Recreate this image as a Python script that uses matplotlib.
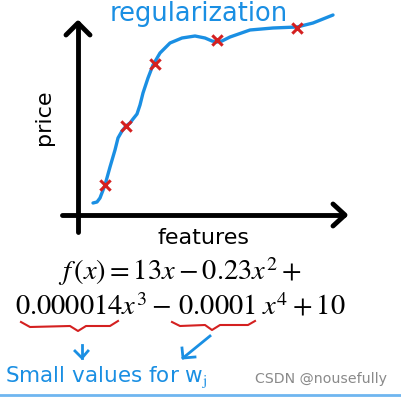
import matplotlib
matplotlib.use("Agg")
import matplotlib.pyplot as plt

# data (pixel coordinates, y downwards)
point_x = [105, 126, 155, 217, 297]
point_y = [185, 126, 64, 40, 28]

curve_x = [93, 97, 100, 105, 110, 115, 118, 122, 126, 130, 133, 137, 140, 143,
           148, 153, 160, 170, 182, 195, 205, 212, 217, 222, 230, 250, 273, 297,
           313, 333]
curve_y = [203, 202, 198, 185, 167, 150, 138, 131, 126, 123, 119, 114, 105, 93,
           78, 65, 53, 43, 38, 36, 38, 41, 42, 41, 37, 30, 28, 27, 23, 15]

line1 = r"$f\,(x) = 13x - 0.23x^2 +$"
line2 = r"$0.000014x^3 - \,0.0001\;x^4 + 10$"

plt.rcParams["mathtext.fontset"] = "stix"

fig = plt.figure(figsize=(4.02, 3.97), dpi=100)
ax = fig.add_axes([0, 0, 1, 1])
ax.set_xlim(0, 402)
ax.set_ylim(397, 0)
ax.axis("off")

# axes with arrow heads
ax.plot([78, 78], [23, 232], color="black", lw=3.5, solid_capstyle="round")
ax.plot([66, 78, 90], [35, 23, 35], color="black", lw=3.5, solid_capstyle="round",
        solid_joinstyle="round")
ax.plot([62, 344], [215, 215], color="black", lw=3.5, solid_capstyle="round")
ax.plot([333, 345, 333], [204, 215, 226], color="black", lw=3.5,
        solid_capstyle="round", solid_joinstyle="round")

# fitted curve and training points
ax.plot(curve_x, curve_y, color="#1a8fe3", lw=2.4, solid_capstyle="round",
        solid_joinstyle="round")
ax.scatter(point_x, point_y, marker="x", s=55, color="#d42020", linewidths=2.2,
           zorder=3)

ax.text(44, 117, "price", rotation=90, fontsize=16, ha="center", va="center")
ax.text(204, 238, "features", fontsize=16, ha="center", va="center")
ax.text(199, 21, "regularization", fontsize=18.5, color="#1a8fe3", ha="center",
        va="baseline")

ax.text(180, 272, line1, fontsize=20.5, ha="center", va="center")
ax.text(180, 307, line2, fontsize=20.5, ha="center", va="center")

# red braces
ax.plot([21, 30, 70, 78, 86, 110, 118], [322, 327, 326, 331, 326, 326, 321],
        color="#d42020", lw=1.5)
ax.plot([172, 180, 205, 212, 220, 248, 255], [322, 326, 325, 330, 325, 325, 321],
        color="#d42020", lw=1.5)

# blue arrows
ax.plot([82, 82], [345, 358], color="#1a8fe3", lw=2)
ax.plot([75, 82, 88], [351, 358, 351], color="#1a8fe3", lw=2)
ax.plot([210, 183], [336, 358], color="#1a8fe3", lw=2)
ax.plot([182, 183, 195], [348, 358, 357], color="#1a8fe3", lw=2)

ax.text(5, 377, "Small values for w$_\\mathrm{j}$", fontsize=15.5, color="#1a8fe3",
        ha="left", va="center")
ax.text(255, 379, "CSDN @nousefully", fontsize=10.2, color="#8a8a8a", ha="left",
        va="center")
ax.plot([0, 402], [395, 395], color="#6fb6f0", lw=2)

fig.savefig("out.png", dpi=100)
